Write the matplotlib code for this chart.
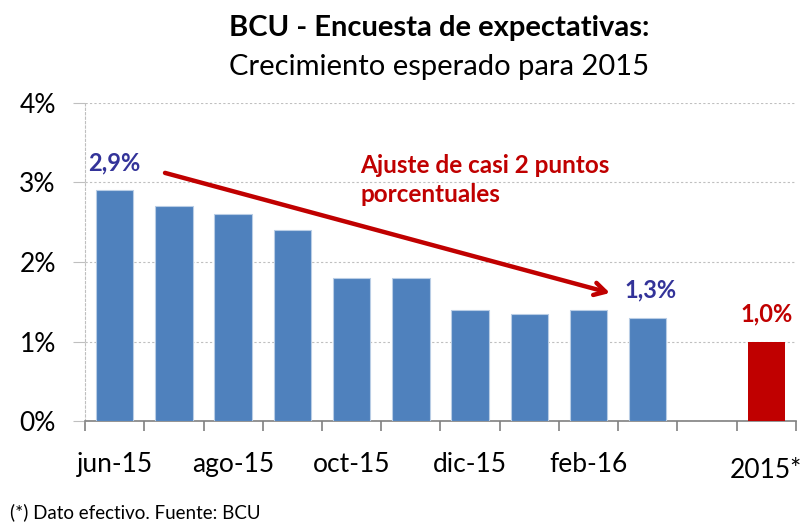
"""BCU - Encuesta de expectativas: crecimiento esperado 2015."""
import numpy as np
import matplotlib
matplotlib.use("Agg")
import matplotlib.pyplot as plt
from matplotlib.ticker import FuncFormatter

plt.rcParams["font.family"] = ["Lato", "DejaVu Sans"]

months = ["jun-15", "jul-15", "ago-15", "sep-15", "oct-15", "nov-15",
          "dic-15", "ene-16", "feb-16", "mar-16"]
expect = [2.9, 2.7, 2.6, 2.4, 1.8, 1.8, 1.4, 1.35, 1.4, 1.3]
actual_label = "2015*"
actual = 1.0
shown_ticks = ["jun-15", "ago-15", "oct-15", "dic-15", "feb-16"]

BLUE = "#4F81BD"
RED = "#C00000"
LBL_BLUE = "#333399"

fig = plt.figure(figsize=(8.06, 5.25), dpi=100)
ax = fig.add_axes([0.1055, 0.198, 0.882, 0.606])

x = np.arange(len(months))
x_act = len(months) + 1
ax.bar(x, expect, width=0.63, color=BLUE, edgecolor="#B9CDE5", linewidth=0.8, zorder=3)
ax.bar([x_act], [actual], width=0.63, color=RED, zorder=3)

ax.set_xlim(-0.5, x_act + 0.5)
ax.set_ylim(0, 4)
ax.set_yticks([0, 1, 2, 3, 4])
ax.yaxis.set_major_formatter(FuncFormatter(lambda v, p: f"{v:.0f}%"))
ax.grid(axis="y", color="#BFBFBF", ls=(0, (2, 2)), lw=0.8, zorder=0)

ticks = [months.index(m) for m in shown_ticks]
ax.set_xticks(ticks + [x_act])
ax.set_xticklabels(shown_ticks + [actual_label])
ax.set_xticks(np.arange(-0.5, x_act + 1, 1), minor=True)
ax.tick_params(axis="x", which="major", length=0, labelsize=19, pad=22)
ax.tick_params(axis="x", which="minor", length=7, color="#808080", width=1.2)
ax.tick_params(axis="y", length=9, color="#BFBFBF", labelsize=19, pad=12)
ax.get_xticklabels()[-1].set_y(-0.02)

for s in ["top", "right"]:
    ax.spines[s].set_visible(False)
ax.spines["bottom"].set_color("#808080")
ax.spines["bottom"].set_linewidth(1.2)
ax.spines["left"].set_color("#BFBFBF")
ax.spines["left"].set_linestyle((0, (2, 2)))
ax.spines["left"].set_linewidth(0.8)

# etiquetas
ax.text(x[0], expect[0] + 0.2, "2,9%", color=LBL_BLUE, fontsize=17,
        fontweight="bold", ha="center", va="bottom")
ax.text(x[-1] + 0.05, expect[-1] + 0.2, "1,3%", color=LBL_BLUE, fontsize=17,
        fontweight="bold", ha="center", va="bottom")
ax.text(x_act, actual + 0.2, "1,0%", color=RED, fontsize=17,
        fontweight="bold", ha="center", va="bottom")

ax.annotate("", xy=(8.36, 1.61), xytext=(0.85, 3.12),
            arrowprops=dict(arrowstyle="->,head_length=0.8,head_width=0.45",
                            color=RED, lw=3.2, shrinkA=0, shrinkB=0))
ax.text(4.15, 3.03, "Ajuste de casi 2 puntos\nporcentuales", color=RED,
        fontsize=17.5, fontweight="bold", ha="left", va="center", linespacing=1.35)

fig.text(0.545, 0.947, "BCU - Encuesta de expectativas:", fontsize=21,
         fontweight="bold", ha="center", va="center")
fig.text(0.545, 0.872, "Crecimiento esperado para 2015", fontsize=21,
         ha="center", va="center")
fig.text(0.012, 0.025, "(*) Dato efectivo. Fuente: BCU", fontsize=13.5,
         ha="left", va="center")

fig.savefig("out.png", dpi=100)
